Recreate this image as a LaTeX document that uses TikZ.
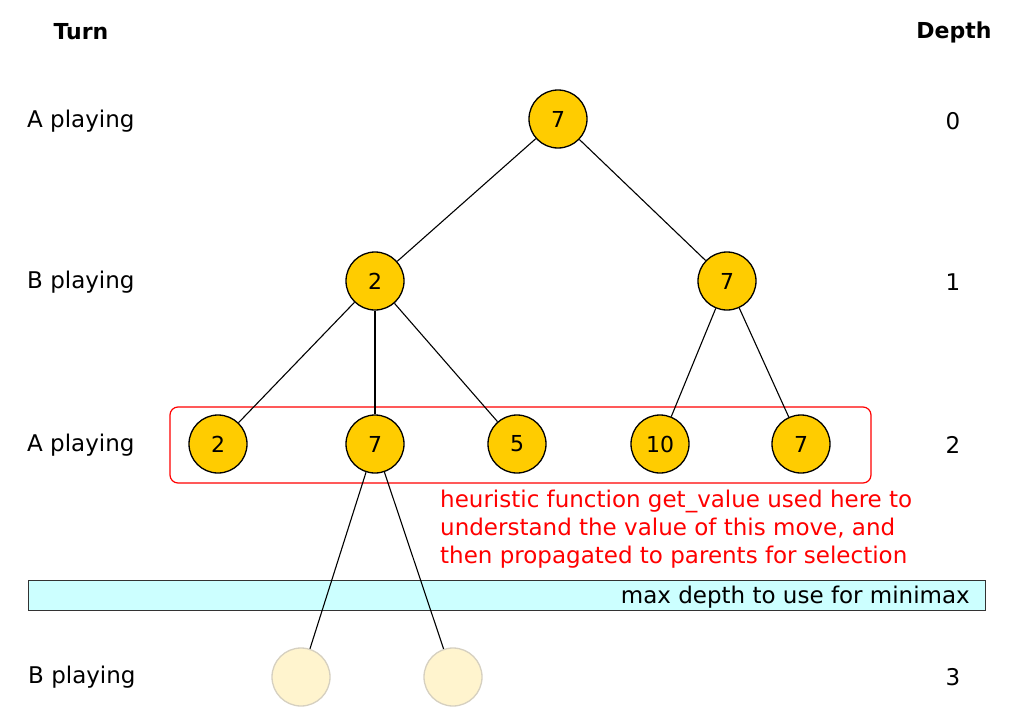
\documentclass[tikz,border=0pt]{standalone}
\usepackage{fontspec}
\setmainfont{DejaVu Sans}
\begin{document}
\begin{tikzpicture}[x=1pt,y=-1pt,
  every node/.style={font=\fontsize{23}{28}\selectfont},
  tnode/.style={circle,draw=black,line width=1.3pt,fill=nodeyellow,minimum size=58pt,inner sep=0pt,font=\fontsize{22}{26}\selectfont},
  fnode/.style={circle,draw=fadegray,line width=1.3pt,fill=fadeyellow,minimum size=58pt,inner sep=0pt},
  edge/.style={draw=black,line width=1.1pt},
  lbl/.style={anchor=west,inner sep=0pt},
  dlbl/.style={inner sep=0pt},
  hdr/.style={inner sep=0pt,font=\fontsize{22}{26}\selectfont\bfseries}]
\definecolor{nodeyellow}{HTML}{FFCC00}
\definecolor{fadeyellow}{HTML}{FFF4CE}
\definecolor{fadegray}{HTML}{D6D0C0}
\definecolor{barcyan}{HTML}{CCFFFF}
\definecolor{redc}{HTML}{FF0000}
\useasboundingbox (0,0) rectangle (1026,712);
% headers
\node[hdr] (turn) at (81,32) {Turn};
\node[hdr] (depth) at (954,32) {Depth};
% turn labels
\node[lbl] (t0) at (27,121) {A playing};
\node[lbl] (t1) at (27,282) {B playing};
\node[lbl] (t2) at (27,445) {A playing};
\node[lbl] (t3) at (28,677) {B playing};
% depth labels
\node[dlbl] (d0) at (953,121) {0};
\node[dlbl] (d1) at (953,282) {1};
\node[dlbl] (d2) at (953,445) {2};
\node[dlbl] (d3) at (953,677) {3};
% red box and text
\draw[redc,line width=1.2pt,rounded corners=8pt] (170,407) rectangle (871,483);
\node[anchor=north west,inner sep=0pt,text=redc,align=left] (note) at (440,490)
  {heuristic function get\_value used here to\\understand the value of this move, and\\then propagated to parents for selection};
% cyan bar
\node[draw=black!80,line width=1.1pt,fill=barcyan,minimum width=957pt,minimum height=30pt,
  inner sep=0pt,anchor=north west] (bar) at (28,580) {};
\node[anchor=east,inner sep=0pt] (bartext) at (970,597) {max depth to use for minimax};
% tree nodes
\node[tnode] (r) at (558,119) {7};
\node[tnode] (l1a) at (375,281) {2};
\node[tnode] (l1b) at (727,281) {7};
\node[tnode] (l2a) at (218,444) {2};
\node[tnode] (l2b) at (375,444) {7};
\node[tnode] (l2c) at (517,444) {5};
\node[tnode] (l2d) at (660,444) {10};
\node[tnode] (l2e) at (801,444) {7};
\node[fnode] (l3a) at (301,677) {};
\node[fnode] (l3b) at (453,677) {};
% edges
\draw[edge] (r) -- (l1a);
\draw[edge] (r) -- (l1b);
\draw[edge] (l1a) -- (l2a);
\draw[edge] (l1a) -- (l2b);
\draw[edge] (l1a) -- (l2c);
\draw[edge] (l1b) -- (l2d);
\draw[edge] (l1b) -- (l2e);
\draw[edge] (l2b) -- (l3a);
\draw[edge] (l2b) -- (l3b);
\end{tikzpicture}
\end{document}
